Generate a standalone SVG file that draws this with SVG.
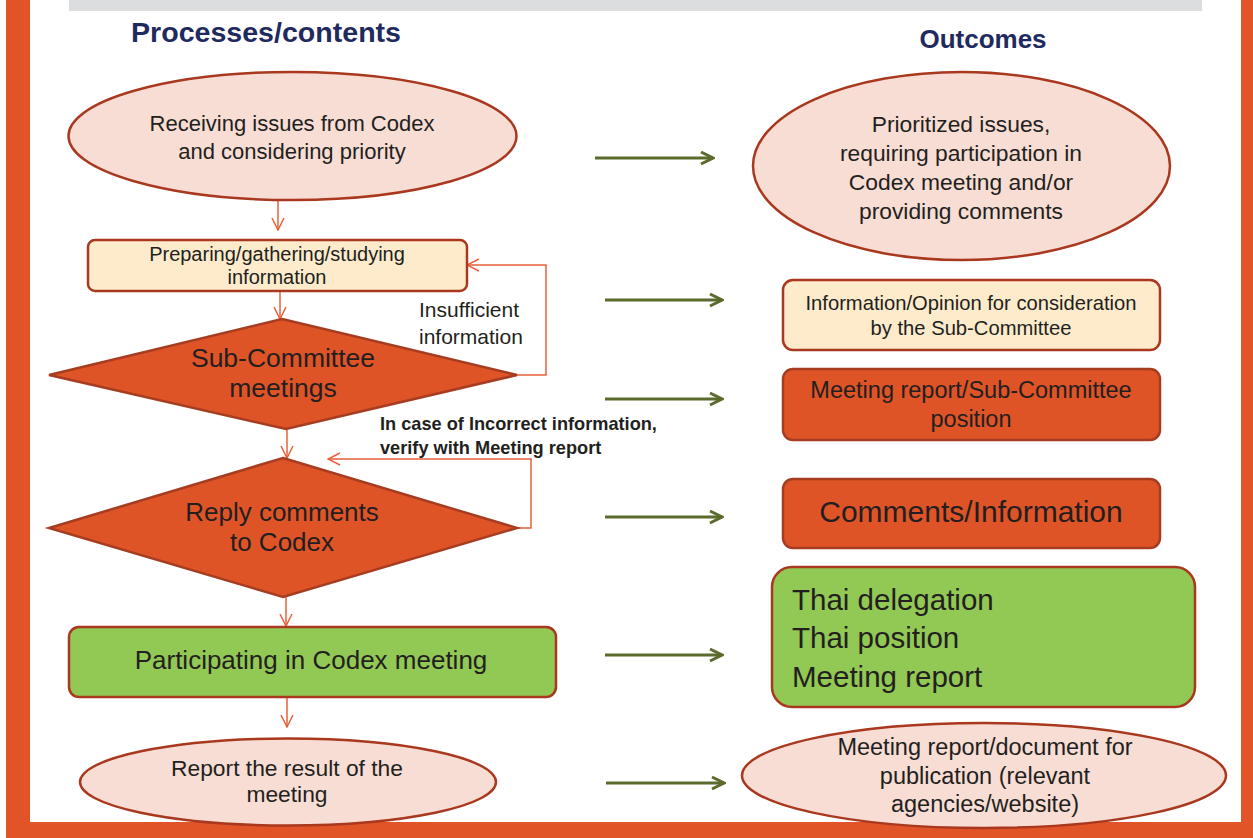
<svg xmlns="http://www.w3.org/2000/svg" width="1253" height="838" viewBox="0 0 1253 838">
<defs>
<style>
.t{font-family:"Liberation Sans",Arial,sans-serif;fill:#231f20;text-anchor:middle}
.h{font-family:"Liberation Sans",Arial,sans-serif;font-weight:bold;fill:#1f2a5e;text-anchor:middle}
.lbl{font-family:"Liberation Sans",Arial,sans-serif;fill:#231f20}
.pink{fill:#f8ddd4;stroke:#a9381e;stroke-width:2.5}
.cream{fill:#fdebcc;stroke:#a9381e;stroke-width:2.5}
.orange{fill:#df5427;stroke:#a63c20;stroke-width:2.5}
.green{fill:#92c854;stroke:#a9381e;stroke-width:2.5}
.oc{fill:none;stroke:#e8603a;stroke-width:1.5}
.gc{fill:none;stroke:#5b6b2c;stroke-width:3}
</style>
<marker id="oa" viewBox="0 0 14 14" refX="13" refY="7" markerWidth="14" markerHeight="14" markerUnits="userSpaceOnUse" orient="auto"><path d="M1,1 L13,7 L1,13" fill="none" stroke="#e8603a" stroke-width="1.5"/></marker>
<marker id="ga" viewBox="0 0 16 16" refX="14" refY="8" markerWidth="16" markerHeight="16" markerUnits="userSpaceOnUse" orient="auto"><path d="M2,2 L14,8 L2,14" fill="none" stroke="#5b6b2c" stroke-width="3"/></marker>
</defs>
<rect width="1253" height="838" fill="#ffffff"/>
<g id="frame">
<rect x="6" y="0" width="24" height="838" fill="#e05427"/>
<rect x="1241" y="0" width="12" height="838" fill="#e05427"/>
<rect x="6" y="822" width="1247" height="16" fill="#e05427"/>
<rect x="69" y="0" width="1133" height="11" fill="#dcdddf"/>
</g>
<g id="titles">
<text class="h" x="266" y="42" font-size="28" textLength="270" lengthAdjust="spacingAndGlyphs">Processes/contents</text>
<text class="h" x="983" y="48" font-size="26">Outcomes</text>
</g>
<g id="connectors">
<path class="oc" d="M278,200 V230" marker-end="url(#oa)"/>
<path class="oc" d="M280,291 V319" marker-end="url(#oa)"/>
<path class="oc" d="M517,375 H546 V265 H467" marker-end="url(#oa)"/>
<path class="oc" d="M287,430 V458" marker-end="url(#oa)"/>
<path class="oc" d="M517,528 H531 V459 H328" marker-end="url(#oa)"/>
<path class="oc" d="M286,597 V626" marker-end="url(#oa)"/>
<path class="oc" d="M287,697 V727" marker-end="url(#oa)"/>
<path class="gc" d="M595,158 H713" marker-end="url(#ga)"/>
<path class="gc" d="M605,300 H722" marker-end="url(#ga)"/>
<path class="gc" d="M605,399 H722" marker-end="url(#ga)"/>
<path class="gc" d="M605,517 H722" marker-end="url(#ga)"/>
<path class="gc" d="M605,655 H722" marker-end="url(#ga)"/>
<path class="gc" d="M606,783 H724" marker-end="url(#ga)"/>
</g>
<g id="labels">
<text class="lbl" x="419" y="317" font-size="21">Insufficient</text>
<text class="lbl" x="419" y="344" font-size="21">information</text>
<text class="lbl" x="380" y="430" font-size="18.2" font-weight="bold">In case of Incorrect information,</text>
<text class="lbl" x="380" y="454" font-size="18.2" font-weight="bold">verify with Meeting report</text>
</g>
<g id="n-receiving">
<ellipse class="pink" cx="292.5" cy="136" rx="224" ry="64"/>
<text class="t" x="292" y="131" font-size="22">Receiving issues from Codex</text>
<text class="t" x="292" y="159" font-size="22">and considering priority</text>
</g>
<g id="n-preparing">
<rect class="cream" x="88" y="240" width="379" height="51" rx="7"/>
<text class="t" x="277" y="261" font-size="20">Preparing/gathering/studying</text>
<text class="t" x="277" y="284" font-size="20">information</text>
</g>
<g id="n-subcommittee">
<polygon class="orange" points="282,319 517,375 286,429 49,375"/>
<text class="t" x="283" y="367" font-size="26.5">Sub-Committee</text>
<text class="t" x="283" y="397" font-size="26.5">meetings</text>
</g>
<g id="n-reply">
<polygon class="orange" points="283,458 517,528 283,597 49,528"/>
<text class="t" x="282" y="521" font-size="26">Reply comments</text>
<text class="t" x="282" y="551" font-size="26">to Codex</text>
</g>
<g id="n-participating">
<rect class="green" x="69" y="627" width="487" height="70" rx="10"/>
<text class="t" x="311" y="669" font-size="26">Participating in Codex meeting</text>
</g>
<g id="n-report">
<ellipse class="pink" cx="288" cy="782" rx="208" ry="43.5"/>
<text class="t" x="287" y="776" font-size="22.8">Report the result of the</text>
<text class="t" x="287" y="802" font-size="22.8">meeting</text>
</g>
<g id="o-prioritized">
<ellipse class="pink" cx="961.5" cy="166" rx="208.5" ry="94"/>
<text class="t" x="961" y="132" font-size="22.8">Prioritized issues,</text>
<text class="t" x="961" y="161" font-size="22.8">requiring participation in</text>
<text class="t" x="961" y="190" font-size="22.8">Codex meeting and/or</text>
<text class="t" x="961" y="219" font-size="22.8">providing comments</text>
</g>
<g id="o-information">
<rect class="cream" x="783" y="280" width="377" height="70" rx="10"/>
<text class="t" x="971" y="310" font-size="20.2">Information/Opinion for consideration</text>
<text class="t" x="971" y="335" font-size="20.2">by the Sub-Committee</text>
</g>
<g id="o-meetingreport">
<rect class="orange" x="783" y="369" width="377" height="71" rx="10"/>
<text class="t" x="971" y="398" font-size="23.5">Meeting report/Sub-Committee</text>
<text class="t" x="971" y="427" font-size="23.5">position</text>
</g>
<g id="o-comments">
<rect class="orange" x="783" y="479" width="377" height="69" rx="10"/>
<text class="t" x="971" y="522" font-size="30">Comments/Information</text>
</g>
<g id="o-thai">
<rect class="green" x="772" y="567" width="423" height="140" rx="20"/>
<text class="lbl" x="792" y="610" font-size="29.5">Thai delegation</text>
<text class="lbl" x="792" y="648" font-size="29.5">Thai position</text>
<text class="lbl" x="792" y="687" font-size="29.5">Meeting report</text>
</g>
<g id="o-publication">
<ellipse class="pink" cx="984" cy="775.5" rx="242" ry="52.5"/>
<text class="t" x="985" y="755" font-size="23.5">Meeting report/document for</text>
<text class="t" x="985" y="784" font-size="23.5">publication (relevant</text>
<text class="t" x="985" y="812" font-size="23.5">agencies/website)</text>
</g>
</svg>
